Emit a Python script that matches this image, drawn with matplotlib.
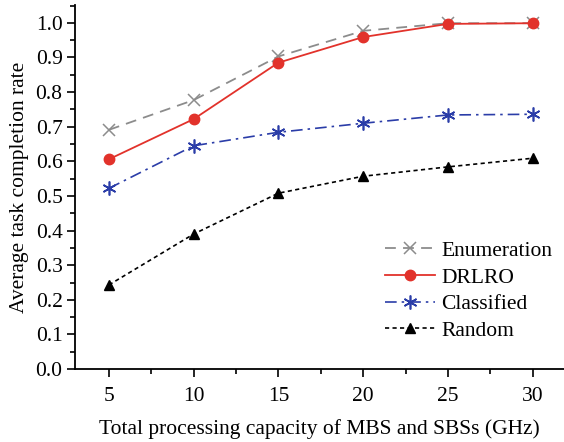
import matplotlib.pyplot as plt
from matplotlib.ticker import MultipleLocator

plt.rcParams['font.family'] = ['Liberation Serif', 'DejaVu Serif']

x = [5, 10, 15, 20, 25, 30]
enumeration = [0.691, 0.777, 0.903, 0.977, 0.999, 0.999]
drlro = [0.606, 0.722, 0.885, 0.959, 0.997, 0.999]
classified = [0.522, 0.645, 0.684, 0.710, 0.734, 0.736]
random_ = [0.243, 0.390, 0.508, 0.557, 0.584, 0.609]

fig = plt.figure(figsize=(5.64, 4.42), dpi=100)
ax = fig.add_axes([0.133, 0.165, 0.867, 0.824])

ax.plot(x, enumeration, color='#8c8c8c', ls=(0, (6, 4)), lw=1.3, marker='x', ms=9, mew=1.1, label='Enumeration')
ax.plot(x, drlro, color='#e2322b', ls='-', lw=1.3, marker='o', ms=7.5, label='DRLRO')
ax.plot(x, classified, color='#2b3da8', ls=(0, (7, 3, 1.5, 3)), lw=1.2, marker=(6, 2, 0), ms=10, mew=1.2, label='Classified')
ax.plot(x, random_, color='black', ls=(0, (2.5, 2)), lw=1.2, marker='^', ms=7.5, label='Random')

ax.set_xlim(3, 31.85)
ax.set_ylim(0, 1.052)
ax.xaxis.set_major_locator(MultipleLocator(5))
ax.xaxis.set_minor_locator(MultipleLocator(2.5))
ax.yaxis.set_major_locator(MultipleLocator(0.1))
ax.yaxis.set_minor_locator(MultipleLocator(0.05))
ax.yaxis.set_major_formatter(plt.FormatStrFormatter('%.1f'))

for s in ['top', 'right']:
    ax.spines[s].set_visible(False)
for s in ['left', 'bottom']:
    ax.spines[s].set_linewidth(1.3)

ax.tick_params(which='major', direction='out', length=6, width=1.2, labelsize=15.5)
ax.tick_params(which='minor', direction='out', length=3.5, width=1.2)
ax.tick_params(axis='x', pad=7)
ax.tick_params(axis='y', pad=3)

ax.set_xlabel('Total processing capacity of MBS and SBSs (GHz)', fontsize=15.5, labelpad=9)
ax.set_ylabel('Average task completion rate', fontsize=15.5, labelpad=5)

ax.legend(loc='lower right', bbox_to_anchor=(1.015, 0.025), frameon=False, fontsize=15.5,
          handlelength=2.3, handletextpad=0.3, labelspacing=0.3)

fig.savefig('out.png', dpi=100)
